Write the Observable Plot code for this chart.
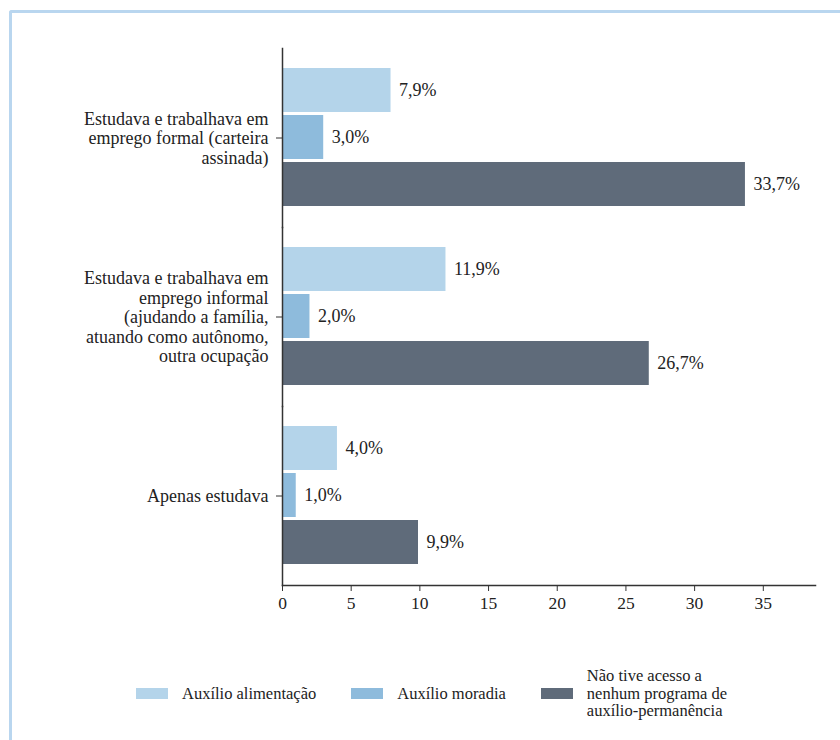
<!DOCTYPE html>
<html>
<head>
<meta charset="utf-8">
<script src="https://cdn.jsdelivr.net/npm/d3@7"></script>
<script src="https://cdn.jsdelivr.net/npm/@observablehq/plot@0.6"></script>
<style>
  html, body { margin: 0; padding: 0; background: #fff; }
  body { width: 840px; height: 740px; position: relative; overflow: hidden; font-family: "Liberation Serif", "Times New Roman", serif; color: #222; }
  #frame { position: absolute; left: 9px; top: 10px; width: 900px; height: 800px; border-top: 3px solid #b9d6ef; border-left: 3px solid #b9d6ef; border-top-left-radius: 3px; box-sizing: border-box; }
  #chart { position: absolute; left: 0; top: 0; }
  #legend { position: absolute; left: 136px; top: 667px; display: flex; align-items: center; gap: 35px; font-size: 16.5px; line-height: 17.5px; }
  .item { display: flex; align-items: center; gap: 14px; }
  .sw { width: 32px; height: 11px; flex: none; }
</style>
</head>
<body>
<div id="frame"></div>
<div id="chart"></div>
<div id="legend"></div>
<script>
const categories = [
  "Estudava e trabalhava em emprego formal (carteira assinada)",
  "Estudava e trabalhava em emprego informal (ajudando a família, atuando como autônomo, outra ocupação",
  "Apenas estudava"
];
const categoryLabels = [
  "Estudava e trabalhava em\nemprego formal (carteira\nassinada)",
  "Estudava e trabalhava em\nemprego informal\n(ajudando a família,\natuando como autônomo,\noutra ocupação",
  "Apenas estudava"
];
const series = [
  "Auxílio alimentação",
  "Auxílio moradia",
  "Não tive acesso a nenhum programa de auxílio-permanência"
];
const legendLabels = [
  "Auxílio alimentação",
  "Auxílio moradia",
  "Não tive acesso a<br>nenhum programa de<br>auxílio-permanência"
];
const auxilioAlimentacao = [7.9, 11.9, 4.0];
const auxilioMoradia = [3.0, 2.0, 1.0];
const semAcesso = [33.7, 26.7, 9.9];
const xTicks = [0, 5, 10, 15, 20, 25, 30, 35];
const colors = ["#b4d4ea", "#8ebbdc", "#5f6b7a"];

const seriesValues = [auxilioAlimentacao, auxilioMoradia, semAcesso];
const data = [];
categories.forEach((c, i) => {
  series.forEach((s, j) => {
    data.push({category: c, series: s, value: seriesValues[j][i]});
  });
});
const labelOf = new Map(categories.map((c, i) => [c, categoryLabels[i]]));
const fmt = v => v.toFixed(1).replace(".", ",") + "%";

const chart = Plot.plot({
  width: 840,
  height: 625,
  marginLeft: 282,
  marginRight: 25,
  marginTop: 47,
  marginBottom: 40,
  style: {fontFamily: "'Liberation Serif', 'Times New Roman', serif", fontSize: "17px", color: "#222", background: "transparent"},
  x: {domain: [0, 38.8], axis: null},
  y: {domain: series, axis: null, paddingInner: 0.06, paddingOuter: 0.4},
  fy: {domain: categories, padding: 0, axis: null},
  color: {domain: series, range: colors},
  marks: [
    Plot.barX(data, {x: "value", y: "series", fy: "category", fill: "series"}),
    Plot.text(data, {x: "value", y: "series", fy: "category", text: d => fmt(d.value), dx: 8, textAnchor: "start", fontSize: 18, fill: "#222"}),
    Plot.frame({anchor: "left", stroke: "#333", strokeWidth: 1.5}),
    Plot.frame({anchor: "bottom", facetAnchor: "bottom", stroke: "#333", strokeWidth: 1.5}),
    Plot.axisX({anchor: "bottom", ticks: xTicks, tickSize: 6, tickPadding: 5, label: null, fontSize: 17.5, stroke: "#333", fill: "#222"}),
    Plot.axisFy({anchor: "left", label: null, tickSize: 6, tickPadding: 8, tickFormat: c => labelOf.get(c), fontSize: 18, lineHeight: 1.08, stroke: "#333", fill: "#222"})
  ]
});
document.getElementById("chart").appendChild(chart);

const legend = document.getElementById("legend");
series.forEach((s, i) => {
  const item = document.createElement("div");
  item.className = "item";
  item.innerHTML = `<span class="sw" style="background:${colors[i]}"></span><span>${legendLabels[i]}</span>`;
  legend.appendChild(item);
});
</script>
</body>
</html>
